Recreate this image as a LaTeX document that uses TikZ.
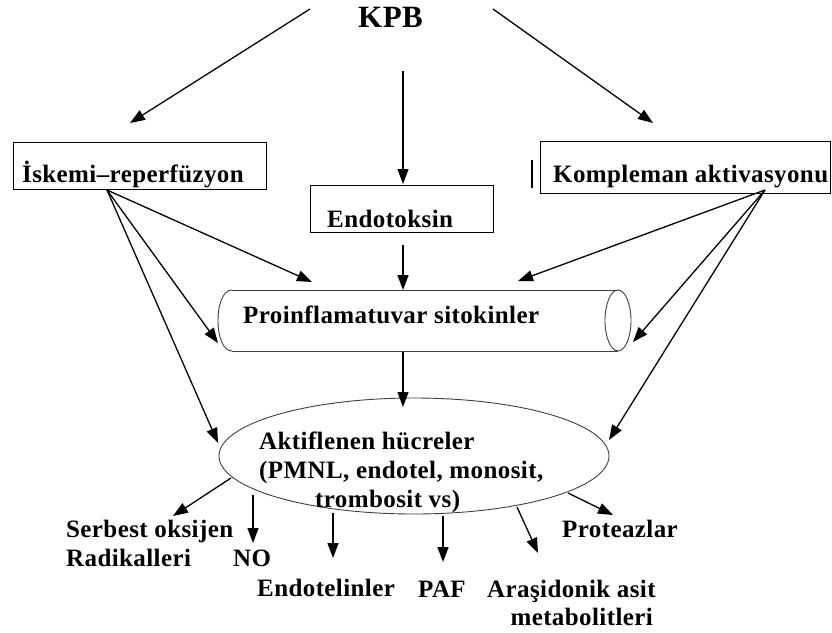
\documentclass[tikz,border=0pt]{standalone}
\usepackage{fontspec}
\setmainfont{Liberation Serif}[LetterSpace=1.6]
\usetikzlibrary{arrows.meta,shapes.geometric}
\begin{document}
\begin{tikzpicture}[x=1pt,y=-1pt,
  txt/.style={inner sep=0pt,font=\fontsize{25}{29}\selectfont\bfseries},
  boxn/.style={draw,line width=1pt,inner sep=0pt,minimum width=#1},
  arr/.style={line width=1.3pt,-{Triangle[length=15pt,width=11pt]}},
  thin/.style={line width=0.9pt,draw=black!75}]
\useasboundingbox (0,0) rectangle (832,632);
% title
\node[inner sep=0pt,anchor=base west,font=\fontsize{31}{33}\selectfont\bfseries] (kpb) at (358,27) {KPB};
\coordinate (kpbL) at (310,9);
\coordinate (kpbR) at (493,9);
\coordinate (kpbM) at (403,71);
% boxes
\node[boxn=253pt,minimum height=47pt,anchor=north west] (iskbox) at (13,142) {};
\node[txt,anchor=base west] (isk) at (22,182) {İskemi–reperfüzyon};
\node[boxn=183pt,minimum height=47pt,anchor=north west] (endbox) at (310,185) {};
\node[txt,anchor=base west] (end) at (327,227) {Endotoksin};
\node[boxn=290pt,minimum height=52pt,anchor=north west] (kombox) at (540,141) {};
\node[txt,anchor=base west] (kom) at (553,182) {Kompleman aktivasyonu};
\draw[line width=2.5pt] (532,160) -- (532,188);
% cylinder
\draw[thin] (232,290) -- (618,290);
\draw[thin] (232,351) -- (618,351);
\draw[thin] (232,290) .. controls (213.3,290) and (213.3,351) .. (232,351);
\draw[thin] (618,320.5) ellipse (13 and 30.5);
\node[txt,anchor=base west] (pro) at (243,323) {Proinflamatuvar sitokinler};
% ellipse
\node[draw=black!75,line width=0.9pt,ellipse,minimum width=390pt,minimum height=116pt,inner sep=0pt] (ell) at (414,456) {};
\node[txt,anchor=base west] (a1) at (259,449) {Aktiflenen hücreler};
\node[txt,anchor=base west] (a2) at (259,478) {(PMNL, endotel, monosit,};
\node[txt,anchor=base west] (a3) at (315,507) {trombosit vs)};
% bottom labels
\node[txt,anchor=base west] (sor1) at (66,537) {Serbest oksijen};
\node[txt,anchor=base west] (sor2) at (66,566) {Radikalleri};
\node[txt,anchor=base west] (no) at (233,566) {NO};
\node[txt,anchor=base west] (et) at (257,596) {Endotelinler};
\node[txt,anchor=base west] (paf) at (418,597) {PAF};
\node[txt,anchor=base west] (ara1) at (487,597) {Araşidonik asit};
\node[txt,anchor=base east] (ara2) at (653,625) {metabolitleri};
\node[txt,anchor=base west] (prt) at (562,537) {Proteazlar};
% connector coordinates
\coordinate (iskS) at (107,190);
\coordinate (komS) at (765,190);
\coordinate (cylT1) at (312,282);
\coordinate (cylT2) at (518,281);
\coordinate (cylL) at (218,343);
\coordinate (cylR) at (633,342);
\coordinate (ellL) at (218,443);
\coordinate (ellR) at (609,440);
\coordinate (endT) at (403,184);
\coordinate (endB) at (403,245);
\coordinate (cylTop) at (403,290);
\coordinate (cylB) at (403,352);
\coordinate (ellT) at (403,407);
\coordinate (iskT) at (130,123);
\coordinate (komT) at (653,123);
% arrows from KPB
\draw[arr] (kpbL) -- (iskT);
\draw[arr] (kpbR) -- (komT);
\draw[arr] (kpbM) -- (endT);
% middle chain
\draw[arr] (endB) -- (cylTop);
\draw[arr] (cylB) -- (ellT);
% from iskemi
\draw[arr] (iskS) -- (cylT1);
\draw[arr] (iskS) -- (cylL);
\draw[arr] (iskS) -- (ellL);
% from kompleman
\draw[arr] (komS) -- (cylT2);
\draw[arr] (komS) -- (cylR);
\draw[arr] (komS) -- (ellR);
% outputs
\coordinate (o1s) at (231,478); \coordinate (o1e) at (173,516);
\coordinate (o2s) at (253,495); \coordinate (o2e) at (253,543);
\coordinate (o3s) at (333,513); \coordinate (o3e) at (333,558);
\coordinate (o4s) at (443,516); \coordinate (o4e) at (443,562);
\coordinate (o5s) at (517,507); \coordinate (o5e) at (538,553);
\coordinate (o6s) at (568,493); \coordinate (o6e) at (613,515);
\draw[arr] (o1s) -- (o1e);
\draw[arr] (o2s) -- (o2e);
\draw[arr] (o3s) -- (o3e);
\draw[arr] (o4s) -- (o4e);
\draw[arr] (o5s) -- (o5e);
\draw[arr] (o6s) -- (o6e);
\end{tikzpicture}
\end{document}
